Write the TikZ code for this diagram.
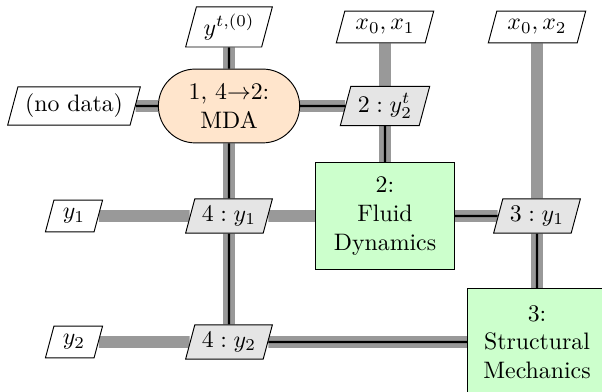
\documentclass[tikz,border=0pt]{standalone}
\usepackage{amsmath}
\usepackage{amssymb}
\usetikzlibrary{shapes.geometric,shapes.misc,backgrounds}
\begin{document}
\begin{tikzpicture}[x=0.42pt,y=0.42pt,
    mda/.style={draw,rounded rectangle,fill=orange!20,align=center,minimum width=66pt,minimum height=31pt},
    func/.style={draw,rectangle,fill=green!20,align=center,minimum width=58pt,minimum height=45pt},
    dataio/.style={draw,trapezium,trapezium left angle=75,trapezium right angle=105,fill=white,minimum height=13.4pt,inner xsep=3pt,inner ysep=3pt},
    datainter/.style={dataio,fill=black!10},
    dataline/.style={black!40,line width=5pt},
    procline/.style={black,line width=1pt}]
\useasboundingbox (0,0) rectangle (602,392);
\node[dataio] (yinit) at (229,365) {$y^{t,(0)}$};
\node[dataio] (xfluid) at (385,365) {$x_0, x_1$};
\node[dataio] (xstruct) at (537,365) {$x_0, x_2$};
\node[dataio] (nodata) at (74,286) {(no data)};
\node[mda] (mda) at (229,286) {1, 4$\to$2:\\MDA};
\node[datainter] (ytwo) at (385,286) {$2 : y_2^t$};
\node[dataio] (yone) at (74,176) {$y_1$};
\node[datainter] (mdaone) at (229,176) {$4 : y_1$};
\node[func] (fluid) at (385,176) {2:\\Fluid\\Dynamics};
\node[datainter] (structone) at (537,176) {$3 : y_1$};
\node[dataio] (ytwoin) at (74,50) {$y_2$};
\node[datainter] (mdatwo) at (229,50) {$4 : y_2$};
\node[func] (struct) at (537,50) {3:\\Structural\\Mechanics};
\begin{scope}[on background layer]
\draw[dataline]
    (yinit) -- (mda)
    (nodata) -- (mda)
    (mda) -- (ytwo)
    (xfluid) -- (ytwo)
    (ytwo) -- (fluid)
    (mda) -- (mdaone)
    (mdaone) -- (mdatwo)
    (yone) -- (mdaone)
    (mdaone) -- (fluid)
    (fluid) -- (structone)
    (xstruct) -- (structone)
    (structone) -- (struct)
    (ytwoin) -- (mdatwo)
    (mdatwo) -- (struct);
\draw[procline]
    (yinit) -- (mda)
    (nodata) -- (mda)
    (mda) -- (ytwo)
    (ytwo) -- (fluid)
    (mda) -- (mdaone)
    (mdaone) -- (mdatwo)
    (mdatwo) -- (struct)
    (fluid) -- (structone)
    (structone) -- (struct);
\end{scope}
\end{tikzpicture}
\end{document}
